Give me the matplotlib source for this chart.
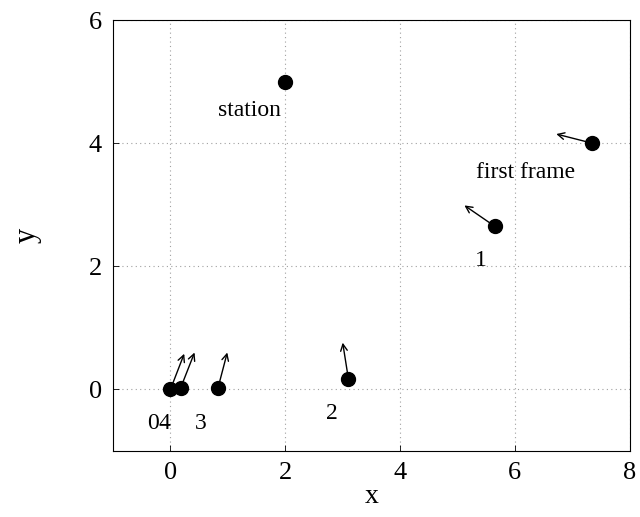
import matplotlib
matplotlib.use("Agg")
import matplotlib.pyplot as plt

# data
px = [0.0, 0.18, 0.83, 3.1, 5.65, 7.35]
py = [0.0, 0.03, 0.03, 0.17, 2.65, 4.0]
ax_tip = [0.24, 0.42, 0.99, 3.0, 5.12, 6.72]
ay_tip = [0.58, 0.6, 0.6, 0.76, 2.99, 4.15]
station = (2.0, 5.0)
labels = ["0", "4", "3", "2", "1", "first frame", "station"]
label_x = [-0.30, -0.10, 0.52, 2.82, 5.4, 6.18, 1.38]
label_y = [-0.55, -0.55, -0.55, -0.39, 2.1, 3.53, 4.54]
xticks = [0, 2, 4, 6, 8]
yticks = [0, 2, 4, 6]

plt.rcParams['font.family'] = ['Liberation Serif', 'DejaVu Serif']
fig = plt.figure(figsize=(6.4, 5.17), dpi=100)
ax = fig.add_axes([0.1766, 0.1277, 0.984 - 0.1766, 0.961 - 0.1277])

ax.set_xlim(-1, 8)
ax.set_ylim(-1, 6)
ax.set_xticks(xticks)
ax.set_yticks(yticks)
ax.grid(True, color='#a0a0a0', linestyle=(0, (1, 3)), linewidth=0.8)
ax.tick_params(direction='in', length=4, width=0.6, labelsize=19, pad=8)
for s in ax.spines.values():
    s.set_linewidth(0.8)

for x0, y0, x1, y1 in zip(px, py, ax_tip, ay_tip):
    ax.annotate('', xy=(x1, y1), xytext=(x0, y0),
                arrowprops=dict(arrowstyle='->', lw=1.0, color='black',
                                shrinkA=0, shrinkB=0, mutation_scale=12))

ax.plot(px, py, 'o', color='black', markersize=10, zorder=5)
ax.plot([station[0]], [station[1]], 'o', color='black', markersize=10, zorder=5)

for t, x, y in zip(labels, label_x, label_y):
    ax.text(x, y, t, fontsize=17, ha='center', va='center')

ax.set_xlabel('x', fontsize=20, labelpad=0)
ax.set_ylabel('y', fontsize=22, labelpad=34)

fig.savefig('out.png', dpi=100)
